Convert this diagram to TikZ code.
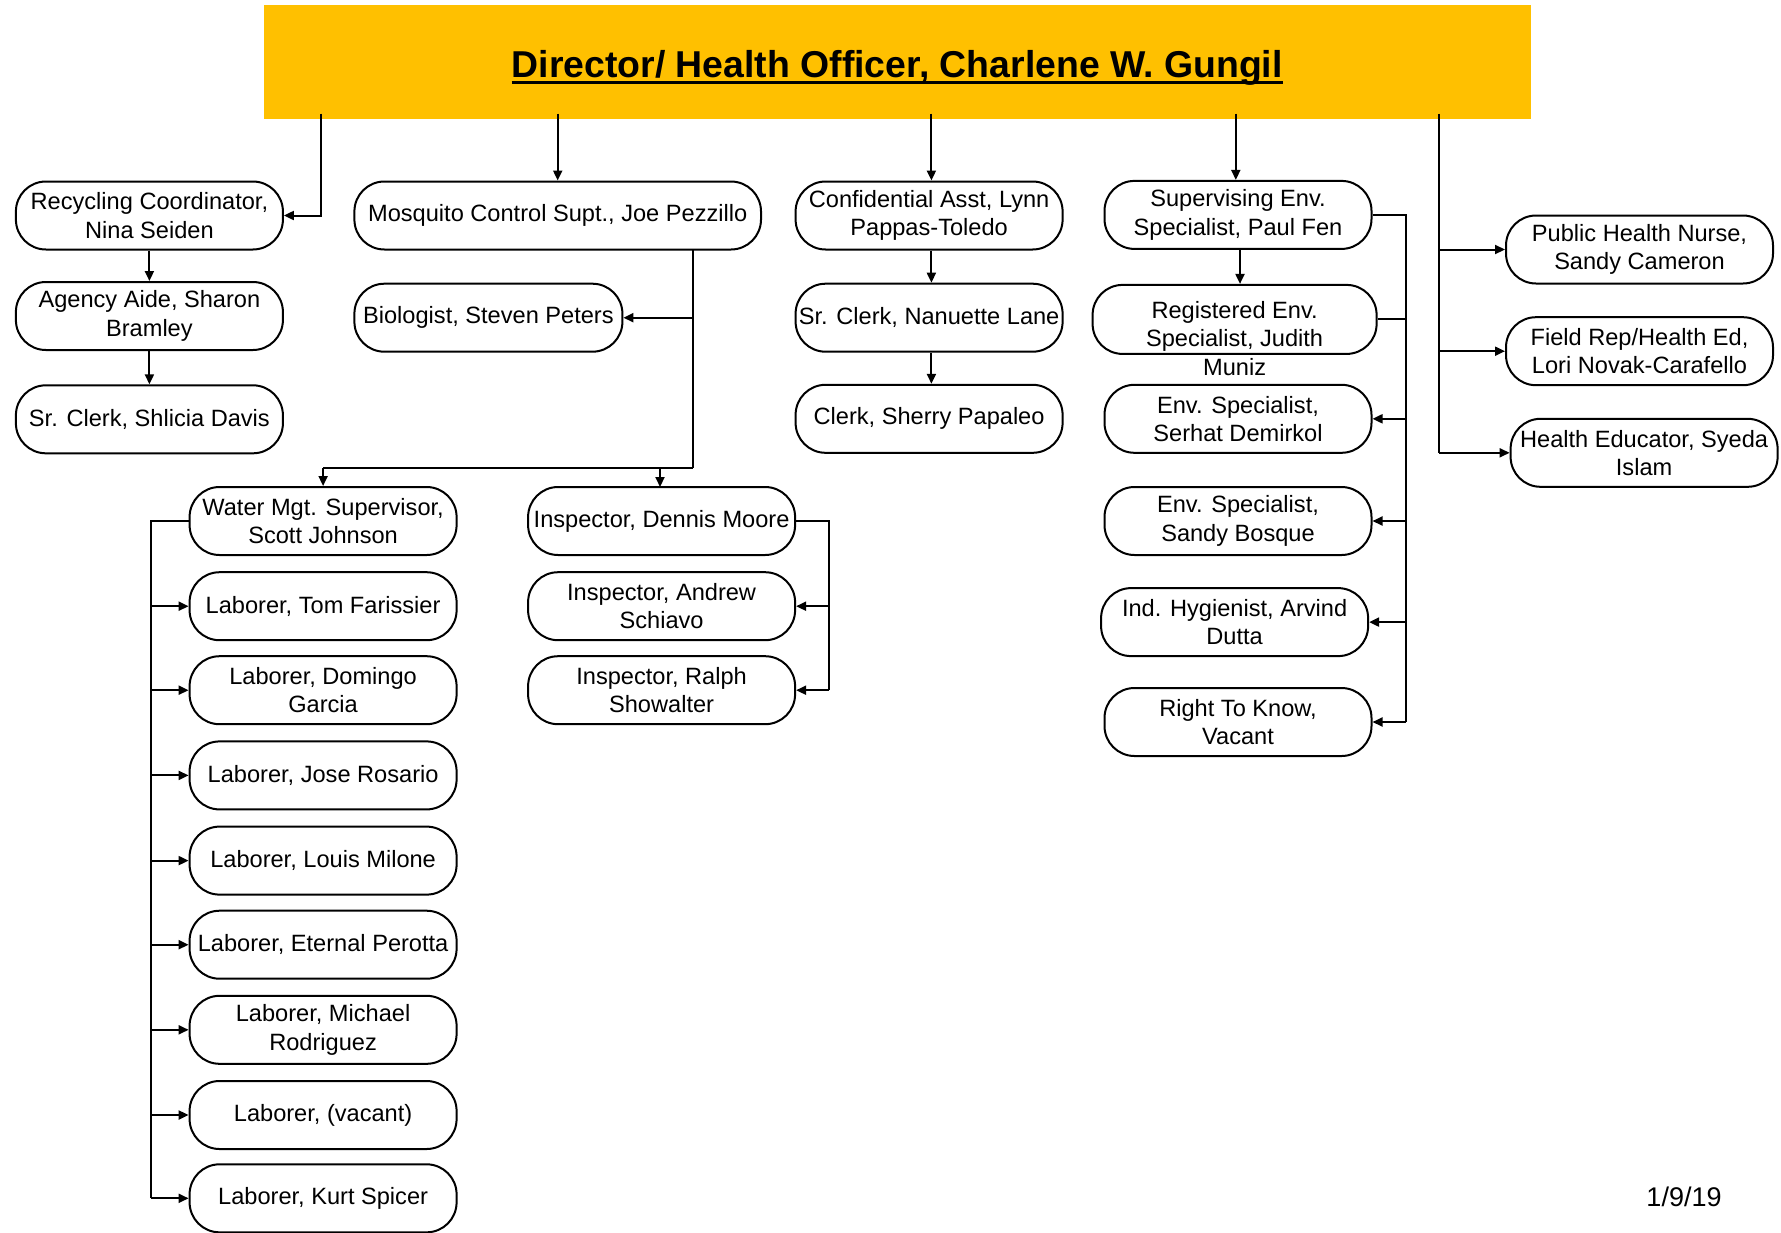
\documentclass[tikz,border=0pt]{standalone}
\usepackage{fontspec}
\setmainfont{Liberation Sans}
\usetikzlibrary{arrows.meta}
\definecolor{gold}{HTML}{FFC000}
\newcommand{\boxfont}{\fontsize{11.8}{14.2}\selectfont}
\newcommand{\thickul}[1]{\setbox0=\hbox{#1}\rlap{\rule[-3.2pt]{\wd0}{1.4pt}}\box0}
\tikzset{
  box/.style={draw, line width=1pt, rounded corners=15pt, minimum width=133.5pt,
    minimum height=34pt, inner sep=0pt, align=center, font=\boxfont},
  arr/.style={line width=1pt, -{Triangle[length=5pt,width=4.5pt]}},
  ln/.style={line width=1pt}
}
\begin{document}
\begin{tikzpicture}[x=0.5pt,y=-0.5pt]
\useasboundingbox (0,0) rectangle (1781,1232);
% title
\fill[gold] (263.5,4.5) rectangle (1531,119.3);
\node[inner sep=0pt, font=\fontsize{18.7}{22}\selectfont\bfseries] (title) at (897.2,68)
  {\thickul{Director/ Health Officer, Charlene W. Gungil}};
% left column
\node[box] (rec) at (149.4,215.5) {Recycling Coordinator,\\Nina Seiden};
\node[box] (aide) at (149.4,316) {Agency Aide, Sharon\\Bramley};
\node[box] (shl) at (149.4,419.3) {Sr. Clerk, Shlicia Davis};
% mosquito
\node[box, minimum width=203.3pt] (mos) at (557.7,215.5) {Mosquito Control Supt., Joe Pezzillo};
\node[box, minimum width=134pt] (bio) at (488.4,317.7) {Biologist, Steven Peters};
% confidential
\node[box] (conf) at (929.1,215.5) {Confidential Asst, Lynn\\Pappas-Toledo};
\node[box] (nan) at (929.1,317.7) {Sr. Clerk, Nanuette Lane};
\node[box] (sher) at (929.1,418.8) {Clerk, Sherry Papaleo};
% supervising
\node[box] (sup) at (1238,214.9) {Supervising Env.\\Specialist, Paul Fen};
\node[box, minimum width=142pt, minimum height=34.5pt] (reg) at (1234.6,319.4) {};
\node[inner sep=0pt, align=center, font=\boxfont] (regtext) at (1234.6,338.5)
  {Registered Env.\\Specialist, Judith\\Muniz};
\node[box] (ser) at (1238,418.8) {Env. Specialist,\\Serhat Demirkol};
\node[box] (bos) at (1238,521) {Env. Specialist,\\Sandy Bosque};
\node[box] (hyg) at (1234.6,622.1) {Ind. Hygienist, Arvind\\Dutta};
\node[box] (rtk) at (1238,722) {Right To Know,\\Vacant};
% right
\node[box] (phn) at (1639.5,249.5) {Public Health Nurse,\\Sandy Cameron};
\node[box] (fld) at (1639.5,351.2) {Field Rep/Health Ed,\\Lori Novak-Carafello};
\node[box] (hed) at (1644.1,452.8) {Health Educator, Syeda\\Islam};
% water
\node[box] (wat) at (323.1,521) {Water Mgt. Supervisor,\\Scott Johnson};
\node[box] (l1) at (323.1,606.2) {Laborer, Tom Farissier};
\node[box] (l2) at (323.1,690.2) {Laborer, Domingo\\Garcia};
\node[box] (l3) at (323.1,775.4) {Laborer, Jose Rosario};
\node[box] (l4) at (323.1,860.6) {Laborer, Louis Milone};
\node[box] (l5) at (323.1,944.7) {Laborer, Eternal Perotta};
\node[box] (l6) at (323.1,1029.8) {Laborer, Michael\\Rodriguez};
\node[box] (l7) at (323.1,1115) {Laborer, (vacant)};
\node[box] (l8) at (323.1,1198.3) {Laborer, Kurt Spicer};
% inspectors
\node[box] (den) at (661.6,521) {Inspector, Dennis Moore};
\node[box] (and) at (661.6,606.2) {Inspector, Andrew\\Schiavo};
\node[box] (ral) at (661.6,690.2) {Inspector, Ralph\\Showalter};
% date
\node[inner sep=0pt, font=\fontsize{13.5}{16}\selectfont] (date) at (1684,1197) {1/9/19};
% coordinates
\coordinate (t1) at (321.4,113.6);
\coordinate (t2) at (557.7,113.6);
\coordinate (t3) at (931.4,113.6);
\coordinate (t4) at (1235.8,113.6);
\coordinate (t5) at (1439.1,113.6);
\coordinate (mt) at (692.8,249.5);
\coordinate (mb) at (692.8,468);
\coordinate (wt) at (151,521);
\coordinate (dt) at (829.2,521);
\coordinate (st) at (1406.1,214.9);
% title connectors
\draw[arr] (t1) |- (rec.east);
\draw[arr] (t2) -- (mos.north);
\draw[arr] (t3) -- (t3 |- conf.north);
\draw[arr] (t4) -- (t4 |- sup.north);
\draw[ln] (t5) -- (t5 |- hed.west);
\draw[arr] (t5 |- phn.west) -- (phn.west);
\draw[arr] (t5 |- fld.west) -- (fld.west);
\draw[arr] (t5 |- hed.west) -- (hed.west);
% left column
\draw[arr] (rec.south) -- (aide.north);
\draw[arr] (aide.south) -- (shl.north);
% mosquito
\draw[ln] (mt) -- (mb);
\draw[arr] (mt |- bio.east) -- (bio.east);
\draw[ln] (mb) -- (mb -| wat.north);
\draw[arr] (mb -| wat.north) -- (wat.north);
\draw[arr] (mb -| 660,0) -- (660,487) coordinate (dn);
% confidential
\draw[arr] (conf.south -| t3) -- (nan.north -| t3);
\draw[arr] (nan.south -| t3) -- (sher.north -| t3);
% supervising
\draw[arr] (sup.south -| 1240,0) -- (reg.north -| 1240,0);
\draw[ln] (sup.east) -- (st) -- (st |- rtk.east);
\draw[ln] (reg.east) -- (st |- reg.east);
\draw[arr] (st |- ser.east) -- (ser.east);
\draw[arr] (st |- bos.east) -- (bos.east);
\draw[arr] (st |- hyg.east) -- (hyg.east);
\draw[arr] (st |- rtk.east) -- (rtk.east);
% water
\draw[ln] (wat.west) -- (wt) -- (wt |- l8.west);
\foreach \n in {l1,l2,l3,l4,l5,l6,l7,l8}{
  \draw[arr] (wt |- \n.west) -- (\n.west);
}
% inspectors
\draw[ln] (den.east) -- (dt) -- (dt |- ral.east);
\draw[arr] (dt |- and.east) -- (and.east);
\draw[arr] (dt |- ral.east) -- (ral.east);
\end{tikzpicture}
\end{document}
